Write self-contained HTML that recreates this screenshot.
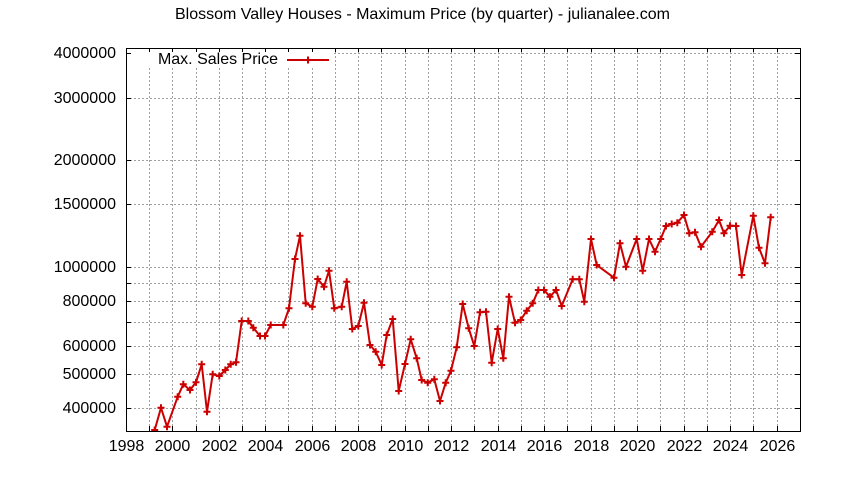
<!DOCTYPE html>
<html><head><meta charset="utf-8"><style>
html,body{margin:0;padding:0;background:#fff;}
svg{display:block;}
text{font-family:"Liberation Sans",Arial,sans-serif;font-size:16px;fill:#000;}
</style></head><body>
<svg width="844" height="480" viewBox="0 0 844 480" xmlns="http://www.w3.org/2000/svg">
<rect width="844" height="480" fill="#fff"/>
<defs><clipPath id="pa"><rect x="126" y="48" width="675" height="383"/></clipPath></defs>
<text x="422.5" y="19" text-anchor="middle">Blossom Valley Houses - Maximum Price (by quarter) - julianalee.com</text>
<g stroke="#a0a0a0" stroke-width="1" stroke-dasharray="2,2" shape-rendering="crispEdges" fill="none">
<path d="M126 53.5H800M126 98.5H800M126 160.5H800M126 204.5H800M126 267.5H800M126 283.5H800M126 301.5H800M126 322.5H800M126 346.5H800M126 374.5H800M126 408.5H800"/>
<path d="M149.5 48V431M172.5 48V431M196.5 48V431M219.5 48V431M242.5 48V431M265.5 48V431M288.5 48V431M312.5 48V431M335.5 48V431M358.5 48V431M381.5 48V431M405.5 48V431M428.5 48V431M451.5 48V431M474.5 48V431M498.5 48V431M521.5 48V431M544.5 48V431M567.5 48V431M591.5 48V431M614.5 48V431M637.5 48V431M660.5 48V431M684.5 48V431M707.5 48V431M730.5 48V431M753.5 48V431M777.5 48V431"/>
</g>
<rect x="127" y="49" width="206" height="18" fill="#fff"/>
<g clip-path="url(#pa)" stroke="#cc0000" stroke-width="2" fill="none" stroke-linejoin="miter">
<polyline points="154.7,430 161,407.7 167,426.7 177.7,396.7 183.3,384.3 190,390 196,382.3 201.7,364.3 207,411.7 212.7,374.3 219.3,376 225.3,370 230.7,364.3 236,362.3 241.7,321 248.3,321 253.3,327.7 260,336 265,336 270.7,325 283.3,325 289,308.3 295,259 300,235.7 305.7,303.3 312.3,306.7 317.7,279 324,286.7 329,270.7 334.3,308.3 341.7,306.7 346.7,281.7 352.3,329 358.3,326 364,302.7 370,345 375.7,351.7 381.7,365 386.7,335 392.7,319 398.7,391 405,364 410.7,339.3 416.7,358.3 421.7,380 427.7,382.7 434.3,379.3 440,401 445.7,382.7 451,370.7 456.7,347.3 462.7,304 468.7,328.3 474.3,346 480,312.3 486,311.7 491.7,362.7 497.7,329 503.3,358.3 509,296.7 515,322.7 520.7,320 526.7,310.7 532.7,303.3 538.3,290 544,290 550,296.7 556,290 561.7,306 572.7,279.3 579.3,279.3 584.3,301.7 591,239 596.7,265 614,277.7 620,243.3 626,266.7 636.7,239 642.7,270.7 649,239 655,251.7 660.7,239 666,226 671.7,224 677.3,222.7 684,215 689.3,233.3 695,232.3 701,246.7 712.3,231.7 719,220 724,233.3 730,225.7 736,226 741.7,275 753.3,215.7 759,247.7 765,263.3 770.7,217.3"/>
<path id="mk" d="M151.2 430h7M154.7 426.5v7M157.5 407.7h7M161 404.2v7M163.5 426.7h7M167 423.2v7M174.2 396.7h7M177.7 393.2v7M179.8 384.3h7M183.3 380.8v7M186.5 390h7M190 386.5v7M192.5 382.3h7M196 378.8v7M198.2 364.3h7M201.7 360.8v7M203.5 411.7h7M207 408.2v7M209.2 374.3h7M212.7 370.8v7M215.8 376h7M219.3 372.5v7M221.8 370h7M225.3 366.5v7M227.2 364.3h7M230.7 360.8v7M232.5 362.3h7M236 358.8v7M238.2 321h7M241.7 317.5v7M244.8 321h7M248.3 317.5v7M249.8 327.7h7M253.3 324.2v7M256.5 336h7M260 332.5v7M261.5 336h7M265 332.5v7M267.2 325h7M270.7 321.5v7M279.8 325h7M283.3 321.5v7M285.5 308.3h7M289 304.8v7M291.5 259h7M295 255.5v7M296.5 235.7h7M300 232.2v7M302.2 303.3h7M305.7 299.8v7M308.8 306.7h7M312.3 303.2v7M314.2 279h7M317.7 275.5v7M320.5 286.7h7M324 283.2v7M325.5 270.7h7M329 267.2v7M330.8 308.3h7M334.3 304.8v7M338.2 306.7h7M341.7 303.2v7M343.2 281.7h7M346.7 278.2v7M348.8 329h7M352.3 325.5v7M354.8 326h7M358.3 322.5v7M360.5 302.7h7M364 299.2v7M366.5 345h7M370 341.5v7M372.2 351.7h7M375.7 348.2v7M378.2 365h7M381.7 361.5v7M383.2 335h7M386.7 331.5v7M389.2 319h7M392.7 315.5v7M395.2 391h7M398.7 387.5v7M401.5 364h7M405 360.5v7M407.2 339.3h7M410.7 335.8v7M413.2 358.3h7M416.7 354.8v7M418.2 380h7M421.7 376.5v7M424.2 382.7h7M427.7 379.2v7M430.8 379.3h7M434.3 375.8v7M436.5 401h7M440 397.5v7M442.2 382.7h7M445.7 379.2v7M447.5 370.7h7M451 367.2v7M453.2 347.3h7M456.7 343.8v7M459.2 304h7M462.7 300.5v7M465.2 328.3h7M468.7 324.8v7M470.8 346h7M474.3 342.5v7M476.5 312.3h7M480 308.8v7M482.5 311.7h7M486 308.2v7M488.2 362.7h7M491.7 359.2v7M494.2 329h7M497.7 325.5v7M499.8 358.3h7M503.3 354.8v7M505.5 296.7h7M509 293.2v7M511.5 322.7h7M515 319.2v7M517.2 320h7M520.7 316.5v7M523.2 310.7h7M526.7 307.2v7M529.2 303.3h7M532.7 299.8v7M534.8 290h7M538.3 286.5v7M540.5 290h7M544 286.5v7M546.5 296.7h7M550 293.2v7M552.5 290h7M556 286.5v7M558.2 306h7M561.7 302.5v7M569.2 279.3h7M572.7 275.8v7M575.8 279.3h7M579.3 275.8v7M580.8 301.7h7M584.3 298.2v7M587.5 239h7M591 235.5v7M593.2 265h7M596.7 261.5v7M610.5 277.7h7M614 274.2v7M616.5 243.3h7M620 239.8v7M622.5 266.7h7M626 263.2v7M633.2 239h7M636.7 235.5v7M639.2 270.7h7M642.7 267.2v7M645.5 239h7M649 235.5v7M651.5 251.7h7M655 248.2v7M657.2 239h7M660.7 235.5v7M662.5 226h7M666 222.5v7M668.2 224h7M671.7 220.5v7M673.8 222.7h7M677.3 219.2v7M680.5 215h7M684 211.5v7M685.8 233.3h7M689.3 229.8v7M691.5 232.3h7M695 228.8v7M697.5 246.7h7M701 243.2v7M708.8 231.7h7M712.3 228.2v7M715.5 220h7M719 216.5v7M720.5 233.3h7M724 229.8v7M726.5 225.7h7M730 222.2v7M732.5 226h7M736 222.5v7M738.2 275h7M741.7 271.5v7M749.8 215.7h7M753.3 212.2v7M755.5 247.7h7M759 244.2v7M761.5 263.3h7M765 259.8v7M767.2 217.3h7M770.7 213.8v7"/>
</g>
<g stroke="#000" stroke-width="1" fill="none" shape-rendering="crispEdges">
<rect x="126.5" y="48.5" width="674" height="383"/>
<path d="M126 53.5h5M126 98.5h5M126 160.5h5M126 204.5h5M126 267.5h5M126 283.5h5M126 301.5h5M126 322.5h5M126 346.5h5M126 374.5h5M126 408.5h5"/>
<path d="M800 53.5h-5M800 98.5h-5M800 160.5h-5M800 204.5h-5M800 267.5h-5M800 283.5h-5M800 301.5h-5M800 322.5h-5M800 346.5h-5M800 374.5h-5M800 408.5h-5"/>
<path d="M149.5 431v-5M172.5 431v-5M196.5 431v-5M219.5 431v-5M242.5 431v-5M265.5 431v-5M288.5 431v-5M312.5 431v-5M335.5 431v-5M358.5 431v-5M381.5 431v-5M405.5 431v-5M428.5 431v-5M451.5 431v-5M474.5 431v-5M498.5 431v-5M521.5 431v-5M544.5 431v-5M567.5 431v-5M591.5 431v-5M614.5 431v-5M637.5 431v-5M660.5 431v-5M684.5 431v-5M707.5 431v-5M730.5 431v-5M753.5 431v-5M777.5 431v-5"/>
<path d="M149.5 48v4M172.5 48v4M196.5 48v4M219.5 48v4M242.5 48v4M265.5 48v4M288.5 48v4M312.5 48v4M335.5 48v4M358.5 48v4M381.5 48v4M405.5 48v4M428.5 48v4M451.5 48v4M474.5 48v4M498.5 48v4M521.5 48v4M544.5 48v4M567.5 48v4M591.5 48v4M614.5 48v4M637.5 48v4M660.5 48v4M684.5 48v4M707.5 48v4M730.5 48v4M753.5 48v4M777.5 48v4"/>
</g>
<g text-anchor="end">
<text x="116" y="58">4000000</text>
<text x="116" y="103">3000000</text>
<text x="116" y="165">2000000</text>
<text x="116" y="209">1500000</text>
<text x="116" y="272">1000000</text>
<text x="116" y="306">800000</text>
<text x="116" y="351">600000</text>
<text x="116" y="379">500000</text>
<text x="116" y="413">400000</text>
</g>
<g text-anchor="middle">
<text x="126.5" y="451">1998</text>
<text x="172.5" y="451">2000</text>
<text x="219.5" y="451">2002</text>
<text x="265.5" y="451">2004</text>
<text x="312.5" y="451">2006</text>
<text x="358.5" y="451">2008</text>
<text x="405.5" y="451">2010</text>
<text x="451.5" y="451">2012</text>
<text x="498.5" y="451">2014</text>
<text x="544.5" y="451">2016</text>
<text x="591.5" y="451">2018</text>
<text x="637.5" y="451">2020</text>
<text x="684.5" y="451">2022</text>
<text x="730.5" y="451">2024</text>
<text x="777.5" y="451">2026</text>
</g>
<text x="278" y="64" text-anchor="end">Max. Sales Price</text>
<g stroke="#cc0000" stroke-width="2" fill="none">
<path d="M287 60H329M304.5 60h7M308 56.5v7"/>
</g>
</svg>
</body></html>
